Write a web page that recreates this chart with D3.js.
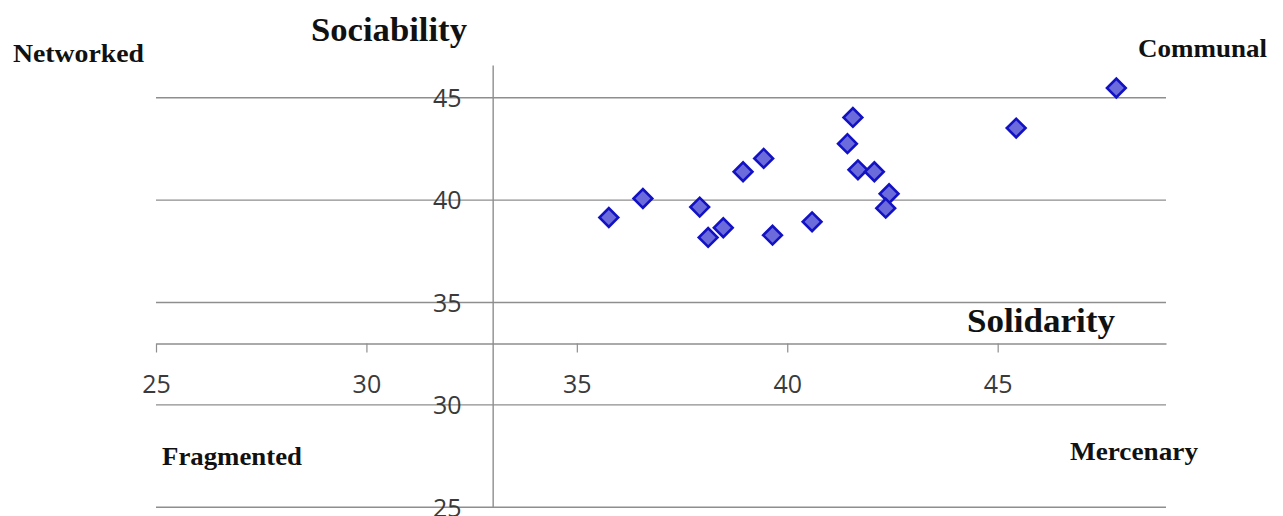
<!DOCTYPE html>
<html>
<head>
<meta charset="utf-8">
<script src="https://cdn.jsdelivr.net/npm/d3@7"></script>
<style>
  html, body { margin: 0; padding: 0; background: #ffffff; }
  svg { display: block; }
</style>
</head>
<body>
<svg id="chart" width="1283" height="516"></svg>
<script>
// ---- data ----
const solidarity  = [35.76, 36.57, 37.92, 38.12, 38.48, 38.95, 39.44, 39.65, 40.59, 41.43, 41.56, 41.68, 42.07, 42.42, 42.34, 45.44, 47.82];
const sociability = [39.15, 40.08, 39.66, 38.18, 38.65, 41.39, 42.04, 38.29, 38.94, 42.76, 44.04, 41.48, 41.39, 40.31, 39.61, 43.52, 45.48];
const xTickValues = [25, 30, 35, 40, 45];
const yTickValues = [25, 30, 35, 40, 45];
const axisTitles = ["Solidarity", "Sociability"];
const quadrantLabels = ["Networked", "Communal", "Fragmented", "Mercenary"];

// ---- layout ----
const W = 1283, H = 516;
const xDomain = [25, 49], yDomain = [25, 46.6];
const crossX = 33, crossY = 33;
const svg = d3.select("#chart");

const x = d3.scaleLinear().domain(xDomain).range([156, 1166]);
const y = d3.scaleLinear().domain(yDomain).range([507.3, 65]);

const gridColor = "#8e8e8e";

// horizontal gridlines
svg.append("g").selectAll("line")
  .data(yTickValues)
  .join("line")
  .attr("x1", x(xDomain[0])).attr("x2", x(xDomain[1]))
  .attr("y1", d => y(d)).attr("y2", d => y(d))
  .attr("stroke", gridColor).attr("stroke-width", 1.4);

// x axis crossing at y = 33
const xAxis = svg.append("g")
  .attr("transform", `translate(0,${y(crossY)})`)
  .call(d3.axisBottom(x).tickValues(xTickValues).tickSize(9).tickSizeOuter(0).tickFormat(d3.format("d")));
xAxis.select(".domain").attr("stroke", gridColor).attr("stroke-width", 1.4);
xAxis.selectAll(".tick line").attr("stroke", gridColor).attr("stroke-width", 1.2);
xAxis.selectAll(".tick text")
  .attr("y", 41).attr("dy", "0.35em")
  .attr("font-family", "'Open Sans', sans-serif").attr("font-size", 25)
  .attr("fill", "#3a3a3a");

// y axis crossing at x = 33
const yAxis = svg.append("g")
  .attr("transform", `translate(${x(crossX)},0)`)
  .call(d3.axisLeft(y).tickValues(yTickValues).tickSize(0).tickSizeOuter(0).tickFormat(d3.format("d")));
yAxis.select(".domain").attr("stroke", gridColor).attr("stroke-width", 1.4);
yAxis.selectAll(".tick text")
  .attr("x", -31).attr("dy", "0.35em")
  .attr("font-family", "'Open Sans', sans-serif").attr("font-size", 25)
  .attr("fill", "#3a3a3a");

// points
const points = solidarity.map((v, i) => ({ sx: v, sy: sociability[i] }));
svg.append("g").selectAll("path")
  .data(points)
  .join("path")
  .attr("d", d3.symbol(d3.symbolSquare, 175))
  .attr("transform", d => `translate(${x(d.sx)},${y(d.sy)}) rotate(45)`)
  .attr("fill", "#6b6bdc")
  .attr("stroke", "#1212c4")
  .attr("stroke-width", 2.6);

// axis titles and quadrant labels
const titleLayout = [
  { text: axisTitles[1], x: 311, y: 41, w: 156, size: 34 },
  { text: axisTitles[0], x: 967, y: 332, w: 148, size: 34 }
];
const quadLayout = [
  { text: quadrantLabels[0], x: 13, y: 62, w: 131, size: 26 },
  { text: quadrantLabels[1], x: 1138, y: 57, w: 129, size: 26 },
  { text: quadrantLabels[2], x: 162, y: 465, w: 140, size: 26 },
  { text: quadrantLabels[3], x: 1070, y: 460, w: 128, size: 26 }
];
svg.append("g").selectAll("text")
  .data(titleLayout.concat(quadLayout))
  .join("text")
  .attr("x", d => d.x).attr("y", d => d.y)
  .attr("textLength", d => d.w).attr("lengthAdjust", "spacingAndGlyphs")
  .attr("font-family", "'Liberation Serif', 'Times New Roman', serif")
  .attr("font-weight", "bold")
  .attr("font-size", d => d.size)
  .attr("fill", "#111")
  .text(d => d.text);
</script>
</body>
</html>
